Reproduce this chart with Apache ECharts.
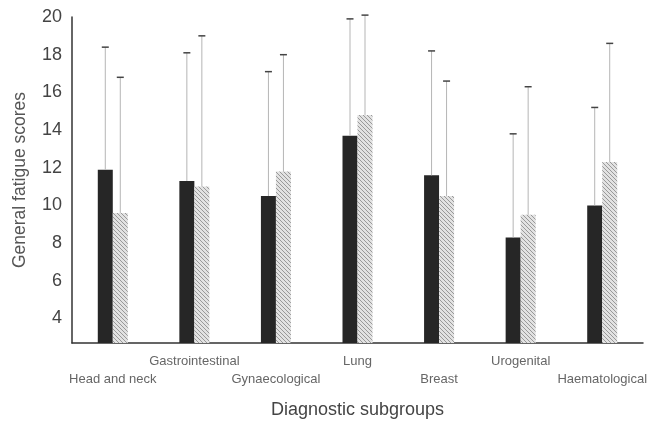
<!DOCTYPE html>
<html>
<head>
<meta charset="utf-8">
<script src="https://cdn.jsdelivr.net/npm/echarts@6/dist/echarts.min.js"></script>
<style>
  html, body { margin: 0; padding: 0; background: #fff; }
  #chart { width: 658px; height: 422px; }
</style>
</head>
<body>
<div id="chart"></div>
<script>
var groups = ['Head and neck', 'Gastrointestinal', 'Gynaecological', 'Lung', 'Breast', 'Urogenital', 'Haematological'];
// dark bars: mean and upper end of error bar
var darkMean  = [11.9, 11.3, 10.5, 13.7, 11.6, 8.3, 10.0];
var darkUpper = [18.4, 18.1, 17.1, 19.9, 18.2, 13.8, 15.2];
// hatched bars
var hatchMean  = [9.6, 11.0, 11.8, 14.8, 10.5, 9.5, 12.3];
var hatchUpper = [16.8, 19.0, 18.0, 20.1, 16.6, 16.3, 18.6];
var yTicks = [4, 6, 8, 10, 12, 14, 16, 18, 20];

var myChart = echarts.init(document.getElementById('chart'));

// diagonal hatch fill
var pat = document.createElement('canvas');
pat.width = 4; pat.height = 4;
var ctx = pat.getContext('2d');
ctx.fillStyle = '#e2e2e2';
ctx.fillRect(0, 0, 4, 4);
ctx.strokeStyle = '#999';
ctx.lineWidth = 1;
ctx.beginPath();
ctx.moveTo(0, 0); ctx.lineTo(4, 4);
ctx.moveTo(-1, 3); ctx.lineTo(1, 5);
ctx.moveTo(3, -1); ctx.lineTo(5, 1);
ctx.stroke();

var BAR_W = 15;

function errSeries(means, uppers, side) {
    var d = [];
    for (var i = 0; i < means.length; i++) {
        d.push([i, means[i], uppers[i]]);
    }
    return {
        type: 'custom',
        data: d,
        z: 5,
        renderItem: function (params, api) {
            var base = api.coord([api.value(0), api.value(1)]);
            var top = api.coord([api.value(0), api.value(2)]);
            var x = base[0] + side * BAR_W / 2;
            return {
                type: 'group',
                children: [
                    { type: 'line', shape: { x1: x, y1: base[1], x2: x, y2: top[1] },
                      style: { stroke: '#b5b5b5', lineWidth: 1 } },
                    { type: 'line', shape: { x1: x - 3.5, y1: top[1], x2: x + 3.5, y2: top[1] },
                      style: { stroke: '#444', lineWidth: 1.5 } }
                ]
            };
        }
    };
}

var option = {
    animation: false,
    grid: { left: 72, right: 15, top: 17, bottom: 79, outerBoundsMode: 'none' },
    xAxis: {
        type: 'category',
        data: groups,
        name: 'Diagnostic subgroups',
        nameLocation: 'middle',
        nameGap: 58,
        nameTextStyle: { fontFamily: 'Liberation Sans', fontSize: 18, color: '#444' },
        axisLine: { lineStyle: { color: '#333', width: 1.5 } },
        axisTick: { show: false },
        axisLabel: {
            interval: 0,
            margin: 9,
            fontFamily: 'Liberation Sans',
            fontSize: 13,
            color: '#666',
            lineHeight: 18,
            formatter: function (v, idx) {
                return idx % 2 === 0 ? '\n' + v : v;
            }
        }
    },
    yAxis: {
        type: 'value',
        min: 2.7,
        max: 20,
        name: 'General fatigue scores',
        nameLocation: 'middle',
        nameGap: 43,
        nameTextStyle: { fontFamily: 'Liberation Sans', fontSize: 17.5, color: '#555' },
        axisLine: { show: true, lineStyle: { color: '#333', width: 1.5 } },
        axisTick: { show: false },
        splitLine: { show: false },
        axisLabel: {
            customValues: yTicks,
            margin: 10,
            fontFamily: 'Liberation Sans',
            fontSize: 18,
            color: '#444'
        }
    },
    series: [
        {
            name: 'dark',
            type: 'bar',
            barWidth: BAR_W,
            barGap: '0%',
            itemStyle: { color: '#262626' },
            data: darkMean
        },
        {
            name: 'hatched',
            type: 'bar',
            barWidth: BAR_W,
            barGap: '0%',
            itemStyle: { color: { image: pat, repeat: 'repeat' } },
            data: hatchMean
        },
        errSeries(darkMean, darkUpper, -1),
        errSeries(hatchMean, hatchUpper, 1)
    ]
};
myChart.setOption(option);
window.onresize = myChart.resize;
</script>
</body>
</html>
